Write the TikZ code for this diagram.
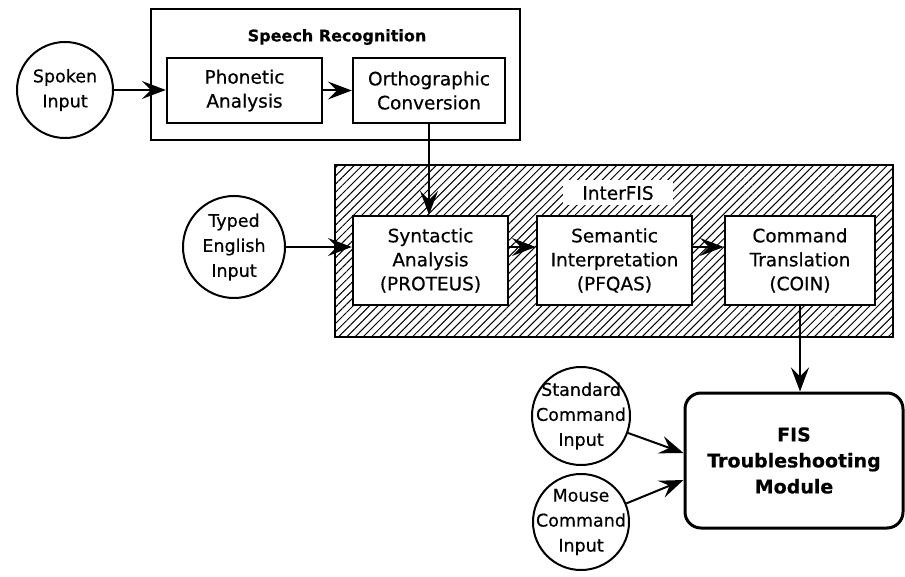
\documentclass[tikz,border=0pt]{standalone}
\usepackage{fontspec}
\setmainfont{DejaVu Sans}[FakeBold=0.5]
\usepackage{tikz}
\usetikzlibrary{arrows.meta,patterns.meta}

\begin{document}
\begin{tikzpicture}[x=1pt,y=-1pt,
    every node/.style={font=\fontsize{18.5}{24}\selectfont,align=center,inner sep=0pt},
    stage/.style={draw,line width=2.4pt,fill=white,minimum height=65pt},
    source/.style={draw,circle,line width=2pt,fill=white,inner sep=-9pt,font=\fontsize{17.5}{25}\selectfont},
    flow/.style={line width=2pt,-{Stealth[length=24pt,width=18pt,inset=9pt]}}]
\useasboundingbox (0,0) rectangle (905,577);
      \begin{scope}[shift={(0,0)}]
% speech recognition front end
\node[draw,line width=2.4pt,minimum width=369pt,minimum height=131pt] (sr) at (335.5,74.5) {};
\node[font=\bfseries\fontsize{16}{20}\selectfont] (srtitle) at (337,37) {Speech Recognition};
\node[stage,minimum width=155pt] (phon) at (244.5,90.5) {Phonetic\\Analysis};
\node[stage,minimum width=152pt] (orth) at (429,90.5) {Orthographic\\Conversion};
\node[source,minimum size=96pt] (spoken) at (65,90) {Spoken\\Input};
% InterFIS
\node[draw,line width=2.4pt,pattern={Lines[angle=45,distance=5.8pt,line width=1pt]},
      minimum width=558pt,minimum height=172pt] (ifis) at (614,251) {};
\node[fill=white,minimum width=110pt,minimum height=25pt] (ifistitle) at (618,193) {InterFIS};
\node[stage,minimum width=155pt,minimum height=89pt] (syn) at (430.5,260.5) {Syntactic\\Analysis\\(PROTEUS)};
\node[stage,minimum width=155pt,minimum height=89pt] (sem) at (614.5,260.5) {Semantic\\Interpretation\\(PFQAS)};
\node[stage,minimum width=150pt,minimum height=89pt] (cmd) at (800,260.5) {Command\\Translation\\(COIN)};
\node[source,minimum size=102pt] (typed) at (234,247) {Typed\\English\\Input};
% FIS module
\node[draw,line width=3pt,rounded corners=16pt,minimum width=218pt,minimum height=135pt,
      font=\bfseries\fontsize{19}{26}\selectfont] (fis) at (794,460.5) {FIS\\Troubleshooting\\Module};
\node[source,minimum size=98pt] (std) at (581,416) {Standard\\Command\\Input};
\node[source,minimum size=96pt] (mouse) at (581,522) {Mouse\\Command\\Input};
\draw[flow] (spoken) -- (spoken -| phon.west);
\draw[flow] (phon) -- (orth);
\draw[flow] (orth.south) -- (orth.south |- syn.north);
\draw[flow] (typed) -- (typed -| syn.west);
\draw[flow] (syn.east |- typed) -- (sem.west |- typed);
\draw[flow] (sem.east |- typed) -- (cmd.west |- typed);
\draw[flow] (cmd.south) -- (cmd.south |- fis.north);
\draw[flow] (std) -- ([yshift=7.5pt]fis.west);
\draw[flow] (mouse) -- ([yshift=-19.5pt]fis.west);
\end{scope}
    \end{tikzpicture}
\end{document}
